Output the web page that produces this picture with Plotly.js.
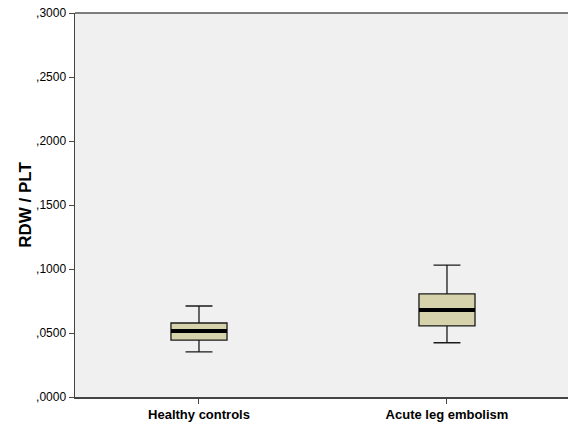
<!DOCTYPE html>
<html><head><meta charset="utf-8">
<script src="https://cdn.plot.ly/plotly-3.0.1.min.js"></script>
<style>html,body{margin:0;padding:0;background:#fff}#c{width:568px;height:425px}</style>
</head><body><div id="c"></div>
<script>
const categories = ["Healthy controls", "Acute leg embolism"];
const lowerWhisker = [0.0352, 0.0424];
const q1 = [0.0445, 0.0555];
const median = [0.0516, 0.0680];
const q3 = [0.0578, 0.0805];
const upperWhisker = [0.0711, 0.1031];
const yTickVals = [0, 0.05, 0.1, 0.15, 0.2, 0.25, 0.3];
const yTickText = [",0000", ",0500", ",1000", ",1500", ",2000", ",2500", ",3000"];

const boxW = 0.226;
const trace = {
  type: "box",
  x: categories,
  q1: q1, median: median, q3: q3,
  lowerfence: lowerWhisker, upperfence: upperWhisker,
  width: boxW,
  whiskerwidth: 0.48,
  fillcolor: "#d6d2ab",
  line: {color: "#1a1a1a", width: 1.3},
  hoverinfo: "skip",
  showlegend: false
};
const shapes = categories.map((c, i) => ({
  type: "line", xref: "x", yref: "y",
  x0: i - boxW / 2, x1: i + boxW / 2, y0: median[i], y1: median[i],
  line: {color: "#000", width: 4}
}));
shapes.push({type: "line", xref: "paper", yref: "paper", x0: 0, x1: 1, y0: 1, y1: 1,
  line: {color: "#555", width: 1.5}});
const layout = {
  width: 568, height: 425,
  margin: {l: 75, r: 0, t: 13, b: 28},
  paper_bgcolor: "#ffffff",
  plot_bgcolor: "#f0f0f0",
  font: {family: "Liberation Sans, Arial, sans-serif", color: "#000"},
  xaxis: {
    type: "category", range: [-0.5, 1.488],
    showgrid: false, zeroline: false,
    showline: true, linecolor: "#444", linewidth: 1.5,
    ticks: "outside", ticklen: 5, tickcolor: "#444",
    tickfont: {size: 13, color: "#000", family: "Liberation Sans, Arial, sans-serif", weight: "bold"},
    fixedrange: true
  },
  yaxis: {
    range: [0, 0.3],
    tickvals: yTickVals, ticktext: yTickText,
    showgrid: false, zeroline: false,
    showline: true, linecolor: "#444", linewidth: 1.5,
    ticks: "outside", ticklen: 5, tickcolor: "#444",
    tickfont: {size: 12, color: "#000"},
    title: {text: "<b>RDW / PLT</b>", font: {size: 17, color: "#000"}, standoff: 0},
    fixedrange: true
  },
  shapes: shapes
};
Plotly.newPlot("c", [trace], layout, {displayModeBar: false, staticPlot: true});
</script></body></html>
